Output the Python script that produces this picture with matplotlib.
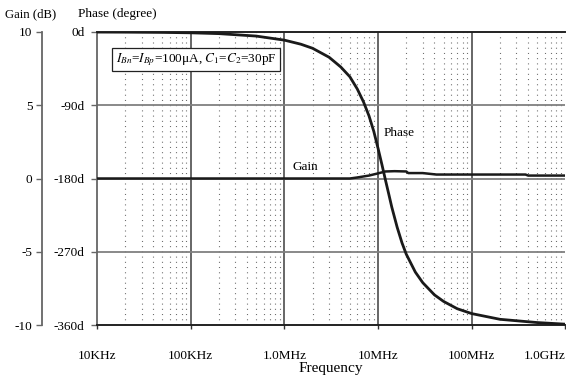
import numpy as np
import matplotlib
matplotlib.use("Agg")
import matplotlib.pyplot as plt

plt.rcParams['font.family'] = ['Liberation Serif', 'DejaVu Serif']
plt.rcParams['mathtext.fontset'] = 'stix'

# ---- data ----
phase_freq = [1e4, 2e4, 5e4, 1e5, 2e5, 5e5, 1e6, 1.5e6, 2e6, 3e6, 4e6, 5e6, 6e6, 7e6,
              8e6, 9e6, 10e6, 11e6, 12e6, 13e6, 14e6, 16e6, 18e6, 20e6, 25e6, 30e6,
              40e6, 50e6, 70e6, 100e6, 200e6, 500e6, 1e9]
phase_deg = [-0.1, -0.2, -0.5, -1.0, -2.0, -5.0, -10, -15, -20, -31, -43, -55, -70, -86,
             -103, -122, -143, -163, -182, -199, -215, -240, -259, -273, -295, -308,
             -323, -331, -340, -346, -353, -357, -359]

gain_freq = [1e4, 1e5, 1e6, 5e6, 6e6, 8e6, 10e6, 12e6, 15e6, 20e6, 21e6, 30e6, 42e6,
             100e6, 375e6, 400e6, 1e9]
gain_db = [0.0, 0.0, 0.0, 0.0, 0.07, 0.2, 0.35, 0.48, 0.5, 0.48, 0.37, 0.37, 0.27,
           0.27, 0.27, 0.2, 0.2]

xtick_vals = [1e4, 1e5, 1e6, 1e7, 1e8, 1e9]
xtick_labels = ["10KHz", "100KHz", "1.0MHz", "10MHz", "100MHz", "1.0GHz"]
phase_ticks = [0, -90, -180, -270, -360]
phase_labels = ["0d", "-90d", "-180d", "-270d", "-360d"]
gain_ticks = [10, 5, 0, -5, -10]
gain_labels = ["10", "5", "0", "-5", "-10"]

W, H = 566, 379
fig = plt.figure(figsize=(W / 100, H / 100), dpi=100)
ax = fig.add_axes([97 / W, 1 - 325 / H, (566 - 97) / W - 0.001, (325 - 32) / H])

ax.set_xscale('log')
ax.set_xlim(1e4, 1e9)
ax.set_ylim(-360, 0)

# minor dotted verticals
for d in range(4, 9):
    for m in range(2, 10):
        ax.axvline(m * 10 ** d, color='#666666', lw=0.8, ls=(0, (0.9, 3.8)), zorder=1)
# major grid
for xv in xtick_vals[1:-1]:
    ax.axvline(xv, color='#5a5a5a', lw=1.3, zorder=1)
for yv in [-90, -180, -270]:
    ax.axhline(yv, color='#808080', lw=1.3, zorder=1)

ax.plot(phase_freq, phase_deg, color='#1a1a1a', lw=2.0, zorder=5)

ax.set_xticks(xtick_vals)
ax.set_xticklabels(xtick_labels)
ax.xaxis.set_minor_locator(matplotlib.ticker.NullLocator())
ax.set_yticks(phase_ticks)
ax.set_yticklabels(phase_labels)
ax.tick_params(axis='x', length=3, width=1, pad=15, labelsize=9.5, color='#333333')
ax.tick_params(axis='y', length=4, width=1, pad=5, labelsize=9.5, color='#666666')
lbls = ax.get_xticklabels()
lbls[-1].set_horizontalalignment('right')

for s in ['top', 'bottom']:
    ax.spines[s].set_color('#222222')
    ax.spines[s].set_linewidth(1.4)
ax.spines['left'].set_color('#666666')
ax.spines['left'].set_linewidth(1.3)
ax.spines['right'].set_visible(False)

ax.set_xlabel("Frequency", fontsize=11, labelpad=0)

# gain axis
ax2 = ax.twinx()
ax2.set_ylim(-10, 10)
ax2.plot(gain_freq, gain_db, color='#1a1a1a', lw=1.8, zorder=5)
ax2.spines['right'].set_visible(False)
ax2.spines['top'].set_visible(False)
ax2.spines['bottom'].set_visible(False)
ax2.spines['left'].set_visible(True)
ax2.spines['left'].set_position(('outward', 55 * 0.72))
ax2.spines['left'].set_color('#666666')
ax2.spines['left'].set_linewidth(1.3)
ax2.yaxis.set_ticks_position('left')
ax2.yaxis.set_label_position('left')
ax2.set_yticks(gain_ticks)
ax2.set_yticklabels(gain_labels)
ax2.tick_params(axis='y', length=4, width=1, pad=3, labelsize=9.5, color='#666666')

# annotations
ax.text(11.6e6, -124, "Phase", fontsize=9.5, ha='left', va='center', zorder=6)
ax.text(1.67e6, -166, "Gain", fontsize=9.5, ha='center', va='center', zorder=6)
ax.text(0.04, 0.905, r"$I_{Bn}$=$I_{Bp}$=100μA, $C_1$=$C_2$=30pF", transform=ax.transAxes,
        fontsize=9.5, ha='left', va='center', zorder=7,
        bbox=dict(boxstyle='square,pad=0.25', fc='white', ec='#222222', lw=0.9))

fig.text(5 / W, 1 - 14 / H, "Gain (dB)", fontsize=9.2, ha='left', va='center')
fig.text(78 / W, 1 - 14 / H, "Phase (degree)", fontsize=9.5, ha='left', va='center')

fig.savefig("out.png", dpi=100)
